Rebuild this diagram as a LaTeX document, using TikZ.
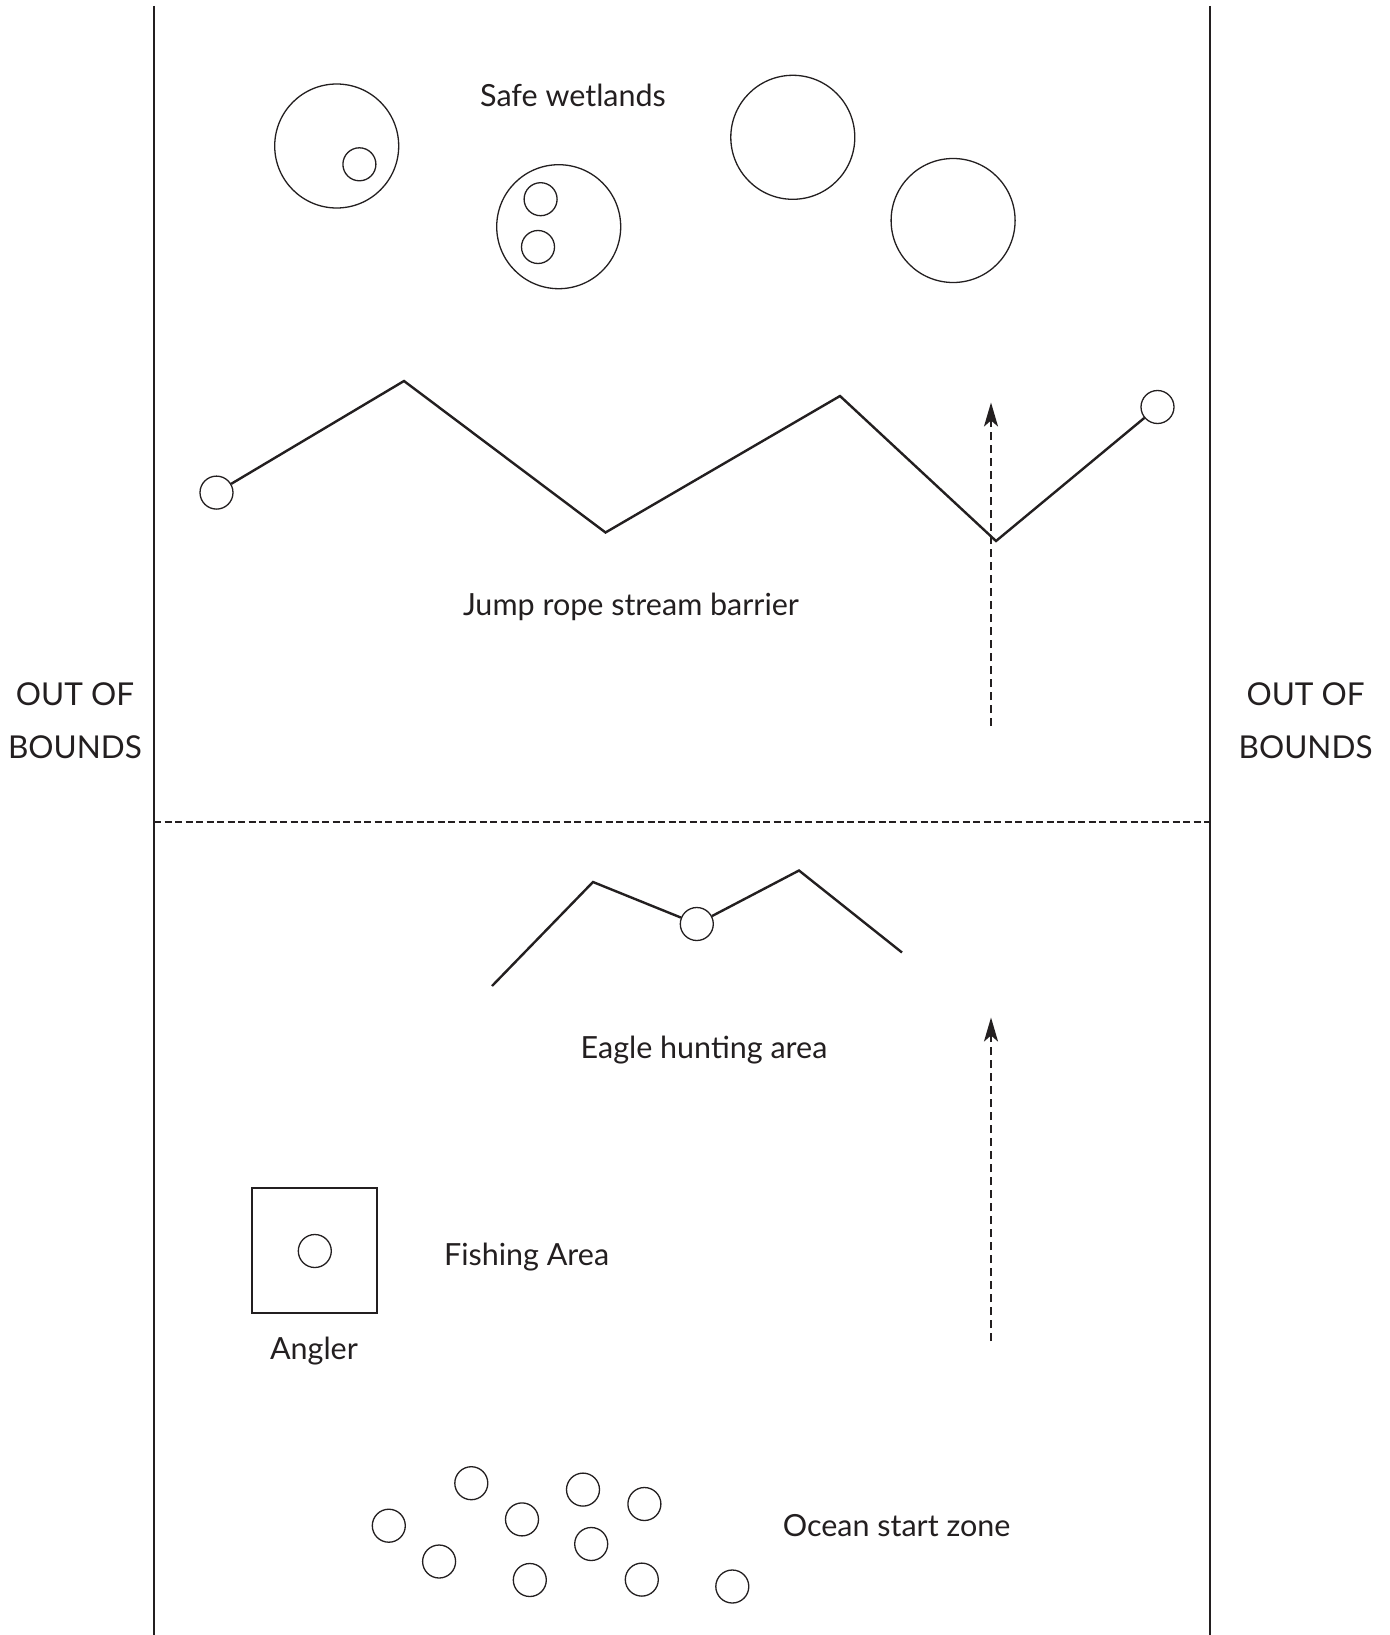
\documentclass[tikz,border=0pt]{standalone}
\usepackage{fontspec}
\setmainfont{Lato}
\usetikzlibrary{arrows.meta}
\definecolor{ink}{HTML}{231F20}
\begin{document}
\begin{tikzpicture}[x=1pt,y=-1pt,
  ink/.style={draw=ink},
  bound/.style={ink,line width=2pt},
  midline/.style={ink,line width=2.3pt,dash pattern=on 7pt off 3.5pt},
  pond/.style={circle,ink,line width=1.3pt,inner sep=0pt,minimum size=124pt},
  player/.style={circle,ink,line width=1.3pt,inner sep=0pt,minimum size=33pt},
  rope/.style={ink,line width=2.4pt,line join=miter},
  run/.style={ink,line width=2.2pt,dash pattern=on 8pt off 5pt,-{Stealth[length=24pt,width=14pt,inset=6pt]}},
  lbl/.style={text=ink,inner sep=0pt,anchor=base,font=\fontsize{30.5}{36}\selectfont},
  caplbl/.style={lbl,font=\fontsize{31.5}{36}\selectfont},
  area/.style={ink,line width=1.3pt}]
\useasboundingbox (0,0) rectangle (1389,1635);
\fill[white] (0,0) rectangle (1389,1635);

% field boundaries
\coordinate (lt) at (154,6);
\coordinate (lb) at (154,1635);
\coordinate (rt) at (1210,6);
\coordinate (rb) at (1210,1635);
\draw[bound] (lt) -- (lb);
\draw[bound] (rt) -- (rb);
\coordinate (ml) at (154,822);
\coordinate (mr) at (1210,822);
\draw[midline] (ml) -- (mr);

% out of bounds labels
\node[caplbl] (oobl1) at (75,705) {OUT OF};
\node[caplbl] (oobl2) at (75,758.5) {BOUNDS};
\node[caplbl] (oobr1) at (1305.6,705) {OUT OF};
\node[caplbl] (oobr2) at (1305.6,758.5) {BOUNDS};

% safe wetlands
\node[lbl] (safe) at (573,106.7) {Safe wetlands};
\node[pond] (p1) at (336.7,146) {};
\node[player] (p1a) at (359.4,164.3) {};
\node[pond] (p2) at (558.7,226.7) {};
\node[player] (p2a) at (540.6,199.2) {};
\node[player] (p2b) at (538,247) {};
\node[pond] (p3) at (792.8,137.3) {};
\node[pond] (p4) at (953.1,220.5) {};

% jump rope stream barrier
\node[player] (jl) at (216.5,492.6) {};
\node[player] (jr) at (1157.5,407) {};
\coordinate (j1) at (404,381);
\coordinate (j2) at (605.5,532.5);
\coordinate (j3) at (840,396);
\coordinate (j4) at (996,541);
\draw[rope] (jl) -- (j1) -- (j2) -- (j3) -- (j4) -- (jr);
\node[lbl] (jump) at (631,615) {Jump rope stream barrier};

% arrows
\coordinate (a1s) at (991,726);
\coordinate (a1e) at (991,402.5);
\draw[run] (a1s) -- (a1e);
\coordinate (a2s) at (991,1341);
\coordinate (a2e) at (991,1017.5);
\draw[run] (a2s) -- (a2e);

% eagle hunting area
\coordinate (e0) at (492,986);
\coordinate (e1) at (593,882);
\node[player] (ec) at (696.8,924) {};
\coordinate (e2) at (799,870.5);
\coordinate (e3) at (902,952.5);
\draw[rope] (e0) -- (e1) -- (ec) -- (e2) -- (e3);
\node[lbl] (eagle) at (704,1058) {Eagle hunting area};

% fishing area
\node[area,draw,minimum size=125pt,inner sep=0pt] (box) at (314.5,1250.5) {};
\node[player] (angler) at (314.8,1251) {};
\node[lbl] (fish) at (526.6,1265.7) {Fishing Area};
\node[lbl] (anglbl) at (314,1359) {Angler};

% ocean start zone
\node[player] (o1) at (388.8,1525.7) {};
\node[player] (o2) at (471.3,1483.2) {};
\node[player] (o3) at (439.1,1561.5) {};
\node[player] (o4) at (522,1519.4) {};
\node[player] (o5) at (583,1489.6) {};
\node[player] (o6) at (644.4,1504) {};
\node[player] (o7) at (591.2,1544) {};
\node[player] (o8) at (529.8,1580) {};
\node[player] (o9) at (641.8,1579.6) {};
\node[player] (o10) at (732.3,1586.5) {};
\node[lbl] (ocean) at (896.6,1536.7) {Ocean start zone};
\end{tikzpicture}
\end{document}
